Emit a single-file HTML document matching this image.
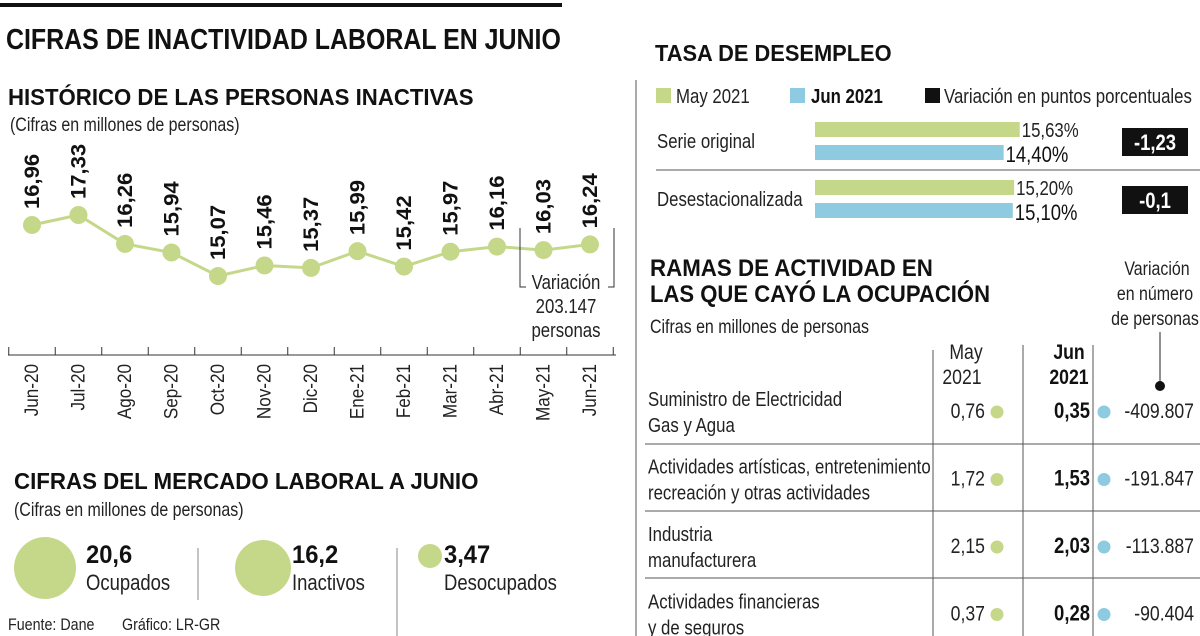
<!DOCTYPE html>
<html><head><meta charset="utf-8"><style>
html,body{margin:0;padding:0;background:#fff;}
svg{display:block;font-family:"Liberation Sans Narrow","Liberation Sans",sans-serif;}
.b{font-weight:bold;}
</style></head><body>
<svg id="s" width="1200" height="636" viewBox="0 0 1200 636">
<rect x="0" y="3" width="562" height="4" fill="#111"/>
<text x="6" y="49" font-size="29" class="b" fill="#111" data-sx="0.86">CIFRAS DE INACTIVIDAD LABORAL EN JUNIO</text>
<text x="8" y="105" font-size="23" class="b" fill="#111" data-sx="0.965">HISTÓRICO DE LAS PERSONAS INACTIVAS</text>
<text x="10" y="131" font-size="19" fill="#222">(Cifras en millones de personas)</text>
<g id="line"></g>
<g>
<path d="M520 228V287H526M614 228V287H608" stroke="#333" fill="none" stroke-width="1"/>
<text x="566" y="289" font-size="20" text-anchor="middle" fill="#222">Variación</text>
<text x="566" y="313" font-size="20" text-anchor="middle" fill="#222">203.147</text>
<text x="566" y="337" font-size="20" text-anchor="middle" fill="#222">personas</text>
</g>
<text x="14" y="489" font-size="23" class="b" fill="#111" data-sx="0.97">CIFRAS DEL MERCADO LABORAL A JUNIO</text>
<text x="14" y="516" font-size="19" fill="#222">(Cifras en millones de personas)</text>
<g>
<circle cx="45" cy="568" r="31" fill="#c5d88a"/>
<text x="86" y="563" font-size="25" class="b" fill="#111" data-sx="0.95">20,6</text>
<text x="86" y="590" font-size="22" fill="#222">Ocupados</text></g>
<line x1="198" y1="548" x2="198" y2="600" stroke="#888"/>
<g>
<circle cx="263" cy="568" r="28" fill="#c5d88a"/>
<text x="292" y="563" font-size="25" class="b" fill="#111" data-sx="0.95">16,2</text>
<text x="292" y="590" font-size="22" fill="#222">Inactivos</text></g>
<line x1="397" y1="548" x2="397" y2="636" stroke="#888"/>
<g>
<circle cx="430" cy="556" r="12" fill="#c5d88a"/>
<text x="444" y="563" font-size="25" class="b" fill="#111" data-sx="0.95">3,47</text>
<text x="444" y="590" font-size="22" fill="#222">Desocupados</text></g>
<text x="8" y="630" font-size="17" fill="#222">Fuente: Dane</text>
<text x="122" y="630" font-size="17" fill="#222">Gráfico: LR-GR</text>

<line x1="636" y1="80" x2="636" y2="636" stroke="#555"/>
<text x="655" y="61" font-size="23" class="b" fill="#111" data-sx="0.95">TASA DE DESEMPLEO</text>
<g>
<rect x="656" y="88" width="15" height="15" fill="#c5d88a"/>
<text x="676" y="103" font-size="20" fill="#222">May 2021</text>
<rect x="790" y="88" width="15" height="15" fill="#8ecae0"/>
<text x="811" y="103" font-size="20" class="b" fill="#111">Jun 2021</text>
<rect x="925" y="88" width="15" height="15" fill="#111"/>
<text x="944" y="103" font-size="20" fill="#222">Variación en puntos porcentuales</text>
</g>
<line x1="656" y1="170" x2="1200" y2="170" stroke="#555"/>
<g id="bars"></g>

<text x="650" y="276" font-size="24" class="b" fill="#111" data-sx="0.93">RAMAS DE ACTIVIDAD EN</text>
<text x="650" y="302" font-size="24" class="b" fill="#111" data-sx="0.92">LAS QUE CAYÓ LA OCUPACIÓN</text>
<text x="650" y="333" font-size="19" fill="#222">Cifras en millones de personas</text>
<g font-size="19" fill="#222" text-anchor="middle">
<text x="1157" y="275">Variación</text><text x="1155" y="300">en número</text><text x="1155" y="325">de personas</text></g>
<line x1="1160" y1="332" x2="1160" y2="385" stroke="#222"/>
<circle cx="1160" cy="386" r="5" fill="#111"/>
<g stroke="#555">
<line x1="933" y1="350" x2="933" y2="636"/><line x1="1023" y1="345" x2="1023" y2="636"/><line x1="1093" y1="345" x2="1093" y2="636"/>
<line x1="645" y1="444" x2="1200" y2="444"/><line x1="645" y1="511" x2="1200" y2="511"/><line x1="645" y1="578" x2="1200" y2="578"/></g>
<g font-size="21" text-anchor="middle">
<text x="966" y="359" fill="#222">May</text><text x="962" y="384" fill="#222">2021</text>
<text x="1069" y="359" class="b" fill="#111">Jun</text><text x="1069" y="384" class="b" fill="#111">2021</text></g>
<g id="table"></g>
</svg>
<script>
const NS="http://www.w3.org/2000/svg";
function mk(p,tag,a,txt){const e=document.createElementNS(NS,tag);for(const k in a)e.setAttribute(k,a[k]);if(txt!==undefined)e.textContent=txt;p.appendChild(e);return e;}
// line chart data
const months=["Jun-20","Jul-20","Ago-20","Sep-20","Oct-20","Nov-20","Dic-20","Ene-21","Feb-21","Mar-21","Abr-21","May-21","Jun-21"];
const inactivos=[16.96,17.33,16.26,15.94,15.07,15.46,15.37,15.99,15.42,15.97,16.16,16.03,16.24];
const valueLabels=["16,96","17,33","16,26","15,94","15,07","15,46","15,37","15,99","15,42","15,97","16,16","16,03","16,24"];
const xs=i=>32+i*46.5;
const ys=v=>215+(17.33-v)*27;
const L=document.getElementById('line');
mk(L,'line',{x1:8,y1:355,x2:616,y2:355,stroke:'#333'});
for(let i=0;i<=months.length;i++){const t=mk(L,'line',{x1:xs(i)-23.25,y1:347,x2:xs(i)-23.25,y2:355,stroke:'#333'});

}
const pl=mk(L,'polyline',{points:inactivos.map((v,i)=>xs(i)+','+ys(v)).join(' '),fill:'none',stroke:'#c5d88a','stroke-width':3});


inactivos.forEach((v,i)=>{
 const c=mk(L,'circle',{cx:xs(i),cy:ys(v),r:9,fill:'#c5d88a'});
 
 
 const t=mk(L,'text',{x:0,y:0,'font-size':21,'font-weight':'bold',fill:'#111','data-rot':'1','data-sx':'1.05',transform:`translate(${xs(i)+7},${ys(v)-16}) rotate(-90)`},valueLabels[i]);
 
 
 const m=mk(L,'text',{x:0,y:0,'font-size':19,fill:'#222','text-anchor':'end','data-rot':'1','data-sx':'0.9',transform:`translate(${xs(i)+6},364) rotate(-90)`},months[i]);
 
 
});
// bar chart data
const series=["Serie original","Desestacionalizada"];
const may2021=[15.63,15.20];
const jun2021=[14.40,15.10];
const variation=["-1,23","-0,1"];
const mayLabels=["15,63%","15,20%"];
const junLabels=["14,40%","15,10%"];
const bw=v=>v*13.1;
const B=document.getElementById('bars');
series.forEach((s,i)=>{
 const y0=122+i*58;
 const l=mk(B,'text',{x:657,y:y0+26,'font-size':20,fill:'#222'},s);
 
 
 const g=mk(B,'rect',{x:815,y:y0,width:bw(may2021[i]),height:15,fill:'#c5d88a'});
 
 
 const bl=mk(B,'rect',{x:815,y:y0+23,width:bw(jun2021[i]),height:15,fill:'#8ecae0'});
 
 
 const t1=mk(B,'text',{x:817+bw(may2021[i]),y:y0+15,'font-size':20,fill:'#222'},mayLabels[i]);
 
 
 const t2=mk(B,'text',{x:817+bw(jun2021[i]),y:y0+40,'font-size':22,fill:'#111'},junLabels[i]);
 
 
 const r=mk(B,'rect',{x:1122,y:y0+6,width:66,height:28,fill:'#111'});
 
 
 const t3=mk(B,'text',{x:1155,y:y0+28,'font-size':22,'font-weight':'bold',fill:'#fff','text-anchor':'middle'},variation[i]);
 
 
});
// table data
const ramasL1=["Suministro de Electricidad","Actividades artísticas, entretenimiento","Industria","Actividades financieras"];
const ramasL2=["Gas y Agua","recreación y otras actividades","manufacturera","y de seguros"];
const mayVals=["0,76","1,72","2,15","0,37"];
const junVals=["0,35","1,53","2,03","0,28"];
const varVals=["-409.807","-191.847","-113.887","-90.404"];
const T=document.getElementById('table');
ramasL1.forEach((r,i)=>{
 const yc=410+i*67.5;
 const a=mk(T,'text',{x:648,y:yc-4,'font-size':20,fill:'#222'},r);
 
 
 const b=mk(T,'text',{x:648,y:yc+22,'font-size':20,fill:'#222'},ramasL2[i]);
 
 
 const m=mk(T,'text',{x:985,y:yc+8,'font-size':21,fill:'#222','text-anchor':'end'},mayVals[i]);
 
 
 const c1=mk(T,'circle',{cx:997,cy:yc+2,r:6.5,fill:'#c5d88a'});
 
 
 const j=mk(T,'text',{x:1090,y:yc+8,'font-size':22,'font-weight':'bold',fill:'#111','text-anchor':'end'},junVals[i]);
 
 
 const c2=mk(T,'circle',{cx:1104,cy:yc+2,r:6.5,fill:'#8ecae0'});
 
 
 const v=mk(T,'text',{x:1194,y:yc+8,'font-size':21,fill:'#222','text-anchor':'end'},varVals[i]);
 
 
});
// condense all text horizontally to mimic a narrow typeface
document.querySelectorAll('#s text').forEach(t=>{
 const f=parseFloat(t.getAttribute('data-sx')||'0.84');
 if(t.getAttribute('data-rot')){t.setAttribute('transform',t.getAttribute('transform')+` scale(${f},1)`);return;}
 const x=parseFloat(t.getAttribute('x'));
 t.setAttribute('transform',`translate(${x},0) scale(${f},1) translate(${-x},0)`);
});
</script>
</body></html>
